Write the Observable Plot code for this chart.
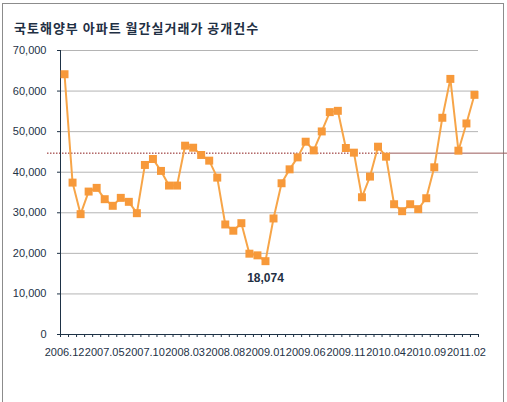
<!DOCTYPE html>
<html>
<head>
<meta charset="utf-8">
<script src="https://cdn.jsdelivr.net/npm/d3@7"></script>
<script src="https://cdn.jsdelivr.net/npm/@observablehq/plot@0.6"></script>
<style>
  html, body { margin: 0; padding: 0; background: #fff; }
  #wrap { position: relative; width: 507px; height: 402px; overflow: hidden; background: #fff; }
  #frame { position: absolute; left: 2px; top: 3px; width: 502px; height: 430px; border: 1px solid #8c8c8c; box-sizing: border-box; }
  #title { position: absolute; left: 14px; top: 18px; font-family: "Noto Sans CJK KR", sans-serif; font-weight: bold; font-size: 13px; color: #1f3044; letter-spacing: 1px; white-space: nowrap; }
  #chart { position: absolute; left: 0; top: 0; }
</style>
</head>
<body>
<div id="wrap">
  <div id="frame"></div>
  <div id="chart"></div>
  <div id="title">국토해양부 아파트 월간실거래가 공개건수</div>
</div>
<script>
const months = [
  "2006.12",
  "2007.01","2007.02","2007.03","2007.04","2007.05","2007.06","2007.07","2007.08","2007.09","2007.10","2007.11","2007.12",
  "2008.01","2008.02","2008.03","2008.04","2008.05","2008.06","2008.07","2008.08","2008.09","2008.10","2008.11","2008.12",
  "2009.01","2009.02","2009.03","2009.04","2009.05","2009.06","2009.07","2009.08","2009.09","2009.10","2009.11","2009.12",
  "2010.01","2010.02","2010.03","2010.04","2010.05","2010.06","2010.07","2010.08","2010.09","2010.10","2010.11","2010.12",
  "2011.01","2011.02","2011.03"
];
const counts = [
  64150, 37440, 29660, 35230, 36140, 33350, 31720, 33680, 32700, 29900,
  41790, 43260, 40320, 36710, 36710, 46540, 46040, 44250, 42850, 38670,
  27120, 25580, 27440, 19920, 19510, 18074, 28600, 37280, 40710, 43660,
  47520, 45380, 50050, 54810, 55130, 45970, 44820, 33830, 38920, 46290,
  43830, 32110, 30390, 32110, 30890, 33590, 41210, 53420, 63000, 45310,
  52020, 59070
];
const yTicks = [0, 10000, 20000, 30000, 40000, 50000, 60000, 70000];
const labelStep = 5;
const refValue = 44700;

const data = months.map((m, i) => ({i, month: m, value: counts[i]}));
const n = months.length;
const minRow = data.reduce((a, b) => (b.value < a.value ? b : a));
const fmt = d3.format(",");

const chart = Plot.plot({
  width: 507,
  height: 402,
  marginLeft: 60,
  marginRight: 29,
  marginTop: 50,
  marginBottom: 68,
  x: {type: "linear", domain: [-0.5, n - 0.5], label: null},
  y: {domain: [0, 70000], label: null},
  style: {background: "transparent", fontFamily: "'Liberation Sans', Arial, sans-serif", fontSize: "11px", color: "#1e3246"},
  marks: [
    Plot.gridY({ticks: yTicks.filter(t => t > 0), stroke: "#b4b4b4", strokeOpacity: 1}),
    Plot.ruleY([refValue], {stroke: "#8b1a1a", strokeDasharray: "1.5,1.5", insetLeft: -13, insetRight: 88}),
    Plot.ruleY([refValue], {stroke: "#9b5a5a", insetLeft: 330, insetRight: -29}),
    Plot.axisY({ticks: yTicks, tickFormat: fmt, tickSize: 3, tickPadding: 11, stroke: "#1e3246", label: null}),
    Plot.axisX({ticks: d3.range(-0.5, n, 1), tickFormat: () => "", tickSize: 3, stroke: "#1e3246", label: null}),
    Plot.axisX({ticks: d3.range(0, n, labelStep), tickFormat: i => months[i], tickSize: 0, tickPadding: 14, label: null}),
    Plot.ruleY([0], {stroke: "#1e3246"}),
    Plot.ruleX([-0.5], {stroke: "#1e3246"}),
    Plot.line(data, {x: "i", y: "value", stroke: "#f7a548", strokeWidth: 2}),
    Plot.dot(data, {x: "i", y: "value", symbol: "square", r: 4.5, fill: "#f7993a", stroke: "none"}),
    Plot.text([minRow], {x: "i", y: "value", text: d => fmt(d.value), dy: 17, fontWeight: "bold", fontSize: 12, fill: "#1f3044"})
  ]
});
document.getElementById("chart").appendChild(chart);
</script>
</body>
</html>
